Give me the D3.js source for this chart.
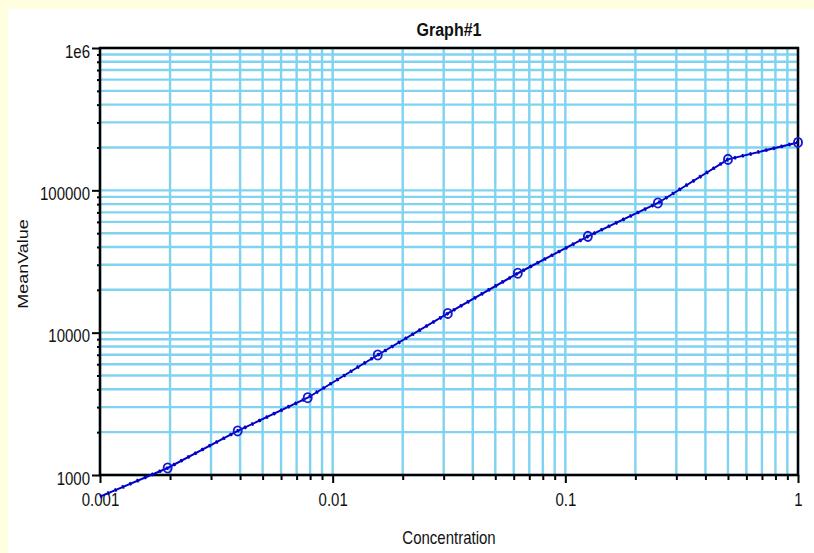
<!DOCTYPE html>
<html><head><meta charset="utf-8">
<script src="https://cdn.jsdelivr.net/npm/d3@7/dist/d3.min.js"></script>
<style>
body{margin:0;background:#ffffe0;overflow:hidden}
text{font-family:"Liberation Sans",Arial,sans-serif;fill:#111}
</style></head><body>
<script>
// ---- data ----
const concentrations = [0.001953125, 0.00390625, 0.0078125, 0.015625, 0.03125, 0.0625, 0.125, 0.25, 0.5, 1];
const meanValues     = [1120, 2040, 3490, 6970, 13650, 26150, 47500, 81500, 165000, 217000];
const curveStartX = [0.001];          // fitted curve begins at left edge
const curveStartY = [705];
const xTickValues = [0.001, 0.01, 0.1, 1];
const xTickLabels = ["0.001", "0.01", "0.1", "1"];
const yTickValues = [1000, 10000, 100000, 1000000];
const yTickLabels = ["1000", "10000", "100000", "1e6"];
const titleText = "Graph#1", xTitle = "Concentration", yTitle = "MeanValue";

const W = 814, H = 553;
const m = {l:100, t:48, r:798, b:475};
const svg = d3.select("body").append("svg").attr("width", W).attr("height", H);
svg.append("rect").attr("x",8).attr("y",9).attr("width",W-8).attr("height",H-9).attr("fill","#ffffff");

const x = d3.scaleLog().domain([0.001, 1]).range([m.l, m.r]);
const y = d3.scaleLog().domain([1000, 1000000]).range([m.b, m.t]);

function minors(lo, hi){
  const out=[];
  for(let d=lo; d<hi*0.999; d*=10) for(let k=2;k<=9;k++) out.push(d*k);
  return out;
}
const xMinor = minors(0.001, 1), yMinor = minors(1000, 1000000);
const grid = "#7fd3f0";

// grid
svg.append("g").selectAll("line").data(xMinor.concat(xTickValues)).join("line")
  .attr("x1",d=>x(d)).attr("x2",d=>x(d)).attr("y1",m.t).attr("y2",m.b)
  .attr("stroke",grid).attr("stroke-width",2.4);
svg.append("g").selectAll("line").data(yMinor.concat(yTickValues)).join("line")
  .attr("y1",d=>y(d)).attr("y2",d=>y(d)).attr("x1",m.l).attr("x2",m.r)
  .attr("stroke",grid).attr("stroke-width",2.4);

// axes
function styleAxis(g){
  g.select(".domain").remove();
  g.selectAll(".tick line").attr("stroke","#000").attr("stroke-width",2);
}
svg.append("g").attr("transform",`translate(0,${m.b})`)
  .call(d3.axisBottom(x).tickValues(xMinor).tickSize(5).tickFormat(""))
  .call(styleAxis);
const xa = svg.append("g").attr("transform",`translate(0,${m.b})`)
  .call(d3.axisBottom(x).tickValues(xTickValues).tickSize(8)
        .tickFormat((d,i)=>xTickLabels[i]))
  .call(styleAxis);
xa.selectAll("text").attr("y",null).attr("dy",null)
  .attr("transform","translate(0,31) scale(1,1.2)")
  .style("font-size","15px").attr("fill","#111");

svg.append("g").attr("transform",`translate(${m.l},0)`)
  .call(d3.axisLeft(y).tickValues(yMinor).tickSize(3).tickFormat(""))
  .call(styleAxis);
const ya = svg.append("g").attr("transform",`translate(${m.l},0)`)
  .call(d3.axisLeft(y).tickValues(yTickValues).tickSize(8)
        .tickFormat((d,i)=>yTickLabels[i]))
  .call(styleAxis);
ya.selectAll("text").attr("x",null).attr("dy",null)
  .attr("transform","translate(-10,9) scale(1,1.2)")
  .style("font-size","15px").attr("fill","#111");

// frame
svg.append("rect").attr("x",m.l).attr("y",m.t).attr("width",m.r-m.l).attr("height",m.b-m.t)
  .attr("fill","none").attr("stroke","#000").attr("stroke-width",2.5);

// curve
const pts = curveStartX.map((c,i)=>[c,curveStartY[i]])
  .concat(concentrations.map((c,i)=>[c,meanValues[i]]));
const line = d3.line().x(d=>x(d[0])).y(d=>y(d[1])).curve(d3.curveLinear);
svg.append("path").attr("d",line(pts)).attr("fill","none")
  .attr("stroke","#0000c8").attr("stroke-width",2);
svg.append("path").attr("d",line(pts)).attr("fill","none")
  .attr("stroke","#0000c0").attr("stroke-width",3.6).attr("stroke-dasharray","2,6");

svg.append("g").selectAll("ellipse").data(concentrations).join("ellipse")
  .attr("cx",d=>x(d)).attr("cy",(d,i)=>y(meanValues[i]))
  .attr("rx",4).attr("ry",4.6).attr("fill","none")
  .attr("stroke","#1818d0").attr("stroke-width",1.9);

// titles
svg.append("text").attr("text-anchor","middle")
  .attr("transform",`translate(${(m.l+m.r)/2},35.5) scale(1,1.16)`)
  .style("font-size","16px").style("font-weight","bold").text(titleText);
svg.append("text").attr("text-anchor","middle")
  .attr("transform",`translate(${(m.l+m.r)/2},544) scale(1,1.2)`)
  .style("font-size","15px").text(xTitle);
svg.append("text").attr("text-anchor","middle")
  .attr("transform",`translate(28,264) rotate(-90) scale(1.2,1)`)
  .style("font-size","15px").text(yTitle);
</script>
</body></html>
